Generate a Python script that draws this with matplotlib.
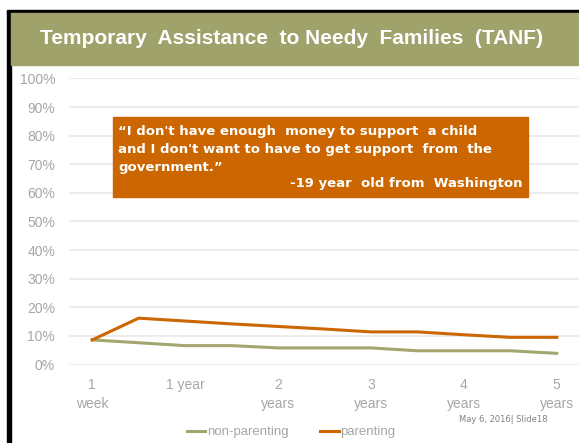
"""
TANF slide chart: share receiving TANF over time, parenting vs non-parenting
"""

import matplotlib
matplotlib.use('Agg')  # non-interactive backend
import matplotlib.pyplot as plt
from matplotlib.patches import Rectangle

# data (percent), 11 time points, labels shown on every other point
x_idx = list(range(11))
parenting = [8.6, 16.2, 15.2, 14.2, 13.3, 12.4, 11.4, 11.4, 10.4, 9.5, 9.5]
non_parenting = [8.6, 7.6, 6.6, 6.6, 5.8, 5.8, 5.8, 4.8, 4.8, 4.8, 3.9]
label_pos = [0, 2, 4, 6, 8, 10]
tick_labels = ['1\nweek', '1 year', '2\nyears', '3\nyears', '4\nyears', '5\nyears']
y_ticks = [0, 10, 20, 30, 40, 50, 60, 70, 80, 90, 100]

title = 'Temporary  Assistance  to Needy  Families  (TANF)'
quote_lines = [
    '\u201cI don\'t have enough  money to support  a child',
    'and I don\'t want to have to get support  from  the',
    'government.\u201d',
]
quote_author = '-19 year  old from  Washington'
footer = 'May 6, 2016| Slide18'

# colors
OLIVE = '#9fa26a'
ORANGE = '#cc6600'
GREEN = '#a3a66e'
GRAY_TXT = '#a6a6a6'
GRID = '#e9e9e9'

W, H = 579, 443
fig = plt.figure(figsize=(W / 100, H / 100), dpi=100)
fig.patch.set_facecolor('white')


def fx(px):
    return px / W


def fy(py):
    return 1 - py / H


# slide frame: black top/left edges + olive title bar
fig.patches.append(Rectangle((fx(7), fy(13.3)), fx(579 - 7), 2.8 / H,
                             transform=fig.transFigure, color='black', zorder=0))
fig.patches.append(Rectangle((fx(7.3), 0), 3.7 / W, fy(10.5),
                             transform=fig.transFigure, color='black', zorder=0))
fig.patches.append(Rectangle((fx(11), fy(65)), fx(579 - 11), 52 / H,
                             transform=fig.transFigure, color=OLIVE, zorder=0))
fig.text(fx(291), fy(39), title, color='white', fontsize=15, fontweight='bold',
         family='Liberation Sans', ha='center', va='center')

# plot area
ax = fig.add_axes([fx(69), fy(364.5), 511 / W, (364.5 - 78.5) / H])
ax.set_facecolor('none')
ax.plot(x_idx, non_parenting, color=GREEN, linewidth=2.2, label='non-parenting',
        solid_joinstyle='round', zorder=3)
ax.plot(x_idx, parenting, color=ORANGE, linewidth=2.2, label='parenting',
        solid_joinstyle='round', zorder=3)

ax.set_xlim(-0.5, 10.5)
ax.set_ylim(0, 100)
ax.set_yticks(y_ticks)
ax.set_yticklabels([f'{v}%' for v in y_ticks])
ax.set_xticks(label_pos)
ax.set_xticklabels(tick_labels)
for lab in ax.get_xticklabels():
    lab.set_linespacing(1.45)
ax.tick_params(axis='both', length=0, colors=GRAY_TXT, labelsize=10)
ax.tick_params(axis='y', pad=10)
ax.tick_params(axis='x', pad=10)
for lab in ax.get_xticklabels() + ax.get_yticklabels():
    lab.set_family('Liberation Sans')
ax.grid(axis='y', color=GRID, linewidth=1.2)
ax.set_axisbelow(True)
for s in ax.spines.values():
    s.set_visible(False)

leg = ax.legend(loc='center', bbox_to_anchor=(fx(291), fy(432)),
                bbox_transform=fig.transFigure, ncol=2, frameon=False,
                handlelength=1.4, handletextpad=0.1, columnspacing=2.4,
                prop={'family': 'Liberation Sans', 'size': 9.5})
for t in leg.get_texts():
    t.set_color(GRAY_TXT)

# quote box
fig.patches.append(Rectangle((fx(113), fy(197)), 415 / W, 80 / H,
                             transform=fig.transFigure, color=ORANGE, zorder=5))
for i, line in enumerate(quote_lines):
    fig.text(fx(118), fy(131 + 18 * i), line, color='white', fontsize=9.5,
             fontweight='bold', family='DejaVu Sans', ha='left', va='center', zorder=6)
fig.text(fx(522), fy(184), quote_author, color='white', fontsize=9.5,
         fontweight='bold', family='DejaVu Sans', ha='right', va='center', zorder=6)

fig.text(fx(503), fy(420), footer, color='#808080', fontsize=6,
         family='DejaVu Sans', ha='center', va='center')

fig.savefig('out.png', dpi=100)
